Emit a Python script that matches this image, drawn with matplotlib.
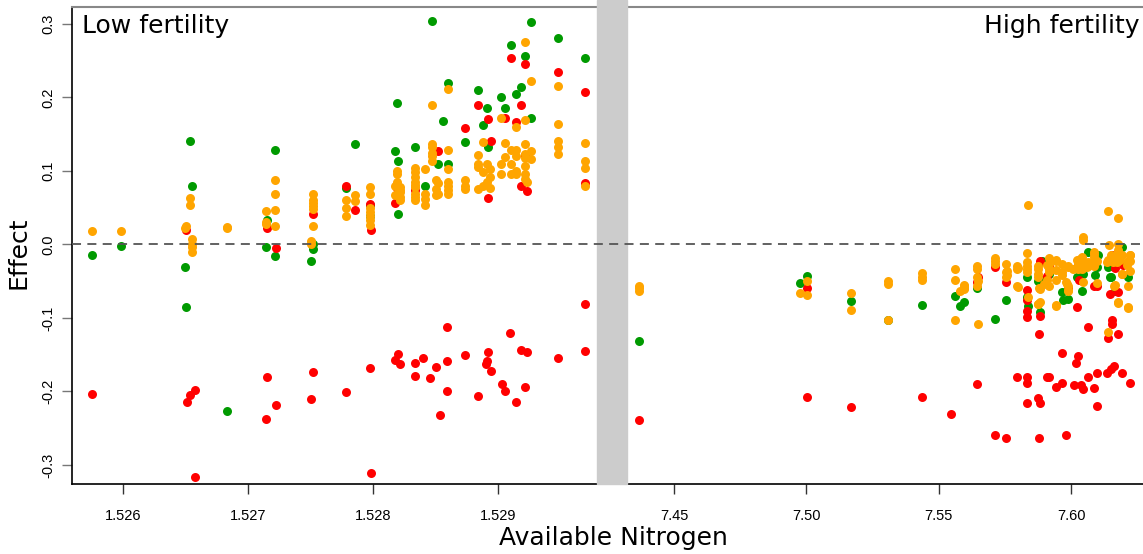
import matplotlib
matplotlib.use("Agg")
import matplotlib.pyplot as plt
import matplotlib.transforms as mtransforms
from matplotlib.patches import Rectangle

# low fertility panel (x, effect)
low_green = [
    (1.52575, -0.015), (1.52598, -0.002), (1.52653, 0.141), (1.52655, 0.079),
    (1.52649, -0.031), (1.52650, -0.085), (1.52683, -0.227), (1.52721, 0.128),
    (1.52715, 0.033), (1.52714, -0.004), (1.52721, -0.016), (1.52752, 0.0),
    (1.52752, -0.006), (1.52750, -0.023), (1.52778, 0.077), (1.52785, 0.137),
    (1.52797, 0.053), (1.52797, 0.039), (1.52817, 0.127), (1.52820, 0.114),
    (1.52819, 0.192), (1.52820, 0.041), (1.52833, 0.133), (1.52841, 0.079),
    (1.52847, 0.304), (1.52856, 0.168), (1.52852, 0.109), (1.52860, 0.220),
    (1.52860, 0.110), (1.52873, 0.139), (1.52884, 0.210), (1.52891, 0.185),
    (1.52888, 0.162), (1.52892, 0.132), (1.52902, 0.200), (1.52905, 0.185),
    (1.52910, 0.271), (1.52914, 0.205), (1.52918, 0.214), (1.52921, 0.257),
    (1.52926, 0.302), (1.52926, 0.172), (1.52948, 0.281), (1.52969, 0.253),
]
low_red = [
    (1.52575, -0.203), (1.52650, 0.019), (1.52657, -0.198), (1.52653, -0.205),
    (1.52651, -0.214), (1.52657, -0.316), (1.52715, 0.022), (1.52722, -0.005),
    (1.52715, -0.180), (1.52722, -0.218), (1.52714, -0.237), (1.52752, 0.042),
    (1.52752, -0.173), (1.52750, -0.211), (1.52778, 0.080), (1.52785, 0.047),
    (1.52778, -0.201), (1.52797, 0.055), (1.52798, 0.019), (1.52797, -0.168),
    (1.52798, -0.311), (1.52817, 0.057), (1.52819, 0.077), (1.52817, -0.157),
    (1.52820, -0.149), (1.52821, -0.163), (1.52833, 0.074), (1.52833, -0.162),
    (1.52833, -0.179), (1.52840, -0.155), (1.52845, -0.182), (1.52852, 0.127),
    (1.52850, -0.167), (1.52859, -0.113), (1.52859, -0.158), (1.52859, -0.199),
    (1.52853, -0.232), (1.52873, 0.159), (1.52873, -0.150), (1.52884, 0.189),
    (1.52884, -0.206), (1.52892, 0.171), (1.52894, 0.141), (1.52892, 0.063),
    (1.52892, -0.147), (1.52891, -0.158), (1.52890, -0.163), (1.52894, -0.172),
    (1.52905, 0.172), (1.52903, -0.190), (1.52905, -0.199), (1.52910, 0.254),
    (1.52909, -0.121), (1.52914, 0.166), (1.52914, -0.214), (1.52918, 0.189),
    (1.52921, 0.246), (1.52921, 0.122), (1.52918, 0.080), (1.52923, 0.073),
    (1.52918, -0.144), (1.52923, -0.146), (1.52921, -0.194), (1.52948, 0.234),
    (1.52948, -0.155), (1.52969, 0.208), (1.52969, 0.084), (1.52969, -0.081),
    (1.52969, -0.145),
]
low_orange = [
    (1.52575, 0.018), (1.52598, 0.018), (1.52653, 0.063), (1.52653, 0.054),
    (1.52649, 0.022), (1.52650, 0.025), (1.52655, 0.007), (1.52655, 0.001),
    (1.52655, -0.004), (1.52655, -0.010), (1.52683, 0.022), (1.52683, 0.024),
    (1.52721, 0.0875), (1.52721, 0.068), (1.52714, 0.046), (1.52721, 0.047),
    (1.52721, 0.025), (1.52714, 0.028), (1.52714, 0.031), (1.52752, 0.068),
    (1.52752, 0.061), (1.52752, 0.057), (1.52752, 0.052), (1.52752, 0.048),
    (1.52752, 0.025), (1.52750, 0.004), (1.52750, 0.001), (1.52785, 0.067),
    (1.52785, 0.059), (1.52778, 0.061), (1.52778, 0.050), (1.52778, 0.038),
    (1.52797, 0.078), (1.52797, 0.069), (1.52797, 0.049), (1.52797, 0.044),
    (1.52797, 0.039), (1.52797, 0.033), (1.52797, 0.026), (1.52819, 0.100),
    (1.52819, 0.096), (1.52819, 0.085), (1.52817, 0.079), (1.52817, 0.067),
    (1.52821, 0.078), (1.52821, 0.074), (1.52821, 0.071), (1.52821, 0.064),
    (1.52821, 0.060), (1.52833, 0.104), (1.52833, 0.098), (1.52833, 0.092),
    (1.52833, 0.085), (1.52833, 0.081), (1.52833, 0.078), (1.52833, 0.069),
    (1.52833, 0.064), (1.52833, 0.060), (1.52841, 0.102), (1.52841, 0.069),
    (1.52841, 0.062), (1.52841, 0.053), (1.52847, 0.190), (1.52847, 0.136),
    (1.52847, 0.132), (1.52847, 0.125), (1.52847, 0.120), (1.52847, 0.114),
    (1.52850, 0.087), (1.52852, 0.083), (1.52850, 0.076), (1.52852, 0.069),
    (1.52850, 0.067), (1.52860, 0.211), (1.52860, 0.129), (1.52860, 0.102),
    (1.52860, 0.085), (1.52860, 0.080), (1.52860, 0.074), (1.52860, 0.068),
    (1.52873, 0.088), (1.52873, 0.079), (1.52873, 0.076), (1.52884, 0.122),
    (1.52884, 0.110), (1.52884, 0.105), (1.52884, 0.076), (1.52888, 0.139),
    (1.52891, 0.110), (1.52888, 0.098), (1.52893, 0.103), (1.52893, 0.092),
    (1.52891, 0.085), (1.52888, 0.080), (1.52893, 0.077), (1.52902, 0.172),
    (1.52905, 0.138), (1.52910, 0.128), (1.52905, 0.119), (1.52902, 0.109),
    (1.52910, 0.109), (1.52902, 0.096), (1.52910, 0.096), (1.52914, 0.160),
    (1.52914, 0.129), (1.52914, 0.120), (1.52914, 0.100), (1.52914, 0.096),
    (1.52921, 0.275), (1.52921, 0.169), (1.52921, 0.136), (1.52921, 0.123),
    (1.52921, 0.117), (1.52921, 0.107), (1.52921, 0.096), (1.52921, 0.089),
    (1.52923, 0.085), (1.52926, 0.127), (1.52926, 0.116), (1.52926, 0.222),
    (1.52948, 0.215), (1.52948, 0.164), (1.52948, 0.141), (1.52948, 0.132),
    (1.52948, 0.123), (1.52969, 0.138), (1.52969, 0.114), (1.52969, 0.104),
    (1.52969, 0.079),
]

# high fertility panel (x, effect)
high_green = [
    (7.4367, -0.131), (7.5001, -0.043), (7.4975, -0.053), (7.5167, -0.077),
    (7.5310, -0.103), (7.5436, -0.082), (7.5562, -0.070), (7.5579, -0.084),
    (7.5597, -0.078), (7.5644, -0.060), (7.5713, -0.102), (7.5755, -0.076),
    (7.5833, -0.044), (7.5833, -0.072), (7.5839, -0.084), (7.5877, -0.050),
    (7.5883, -0.092), (7.5889, -0.022), (7.5915, -0.040), (7.5889, -0.049),
    (7.5965, -0.065), (7.5990, -0.074), (7.5968, -0.076), (7.6022, -0.044),
    (7.6040, -0.063), (7.6030, -0.044), (7.6047, -0.040), (7.6066, -0.011),
    (7.6091, -0.041), (7.6103, -0.015), (7.6097, -0.031), (7.6148, -0.044),
    (7.6154, -0.029), (7.6194, -0.004), (7.6217, -0.044), (7.6166, -0.063),
    (7.6141, -0.031), (7.6150, -0.045),
]
high_red = [
    (7.4367, -0.239), (7.5001, -0.060), (7.5001, -0.207), (7.5167, -0.221),
    (7.5436, -0.208), (7.5547, -0.231), (7.5649, -0.044), (7.5644, -0.051),
    (7.5644, -0.190), (7.5713, -0.031), (7.5713, -0.259), (7.5755, -0.051),
    (7.5755, -0.263), (7.5833, -0.062), (7.5833, -0.075), (7.5833, -0.090),
    (7.5833, -0.099), (7.5797, -0.180), (7.5833, -0.181), (7.5833, -0.188),
    (7.5833, -0.216), (7.5883, -0.022), (7.5883, -0.098), (7.5879, -0.122),
    (7.5877, -0.209), (7.5883, -0.216), (7.5879, -0.264), (7.5908, -0.043),
    (7.5915, -0.030), (7.5909, -0.180), (7.5918, -0.180), (7.5944, -0.194),
    (7.5965, -0.148), (7.5965, -0.188), (7.5982, -0.259), (7.5990, -0.059),
    (7.6022, -0.085), (7.6022, -0.031), (7.6030, -0.049), (7.6028, -0.152),
    (7.6017, -0.162), (7.6013, -0.191), (7.6038, -0.191), (7.6045, -0.197),
    (7.6065, -0.112), (7.6065, -0.180), (7.6085, -0.057), (7.6097, -0.057),
    (7.6097, -0.175), (7.6088, -0.196), (7.6100, -0.220), (7.6154, -0.015),
    (7.6166, -0.032), (7.6195, -0.028), (7.6148, -0.068), (7.6177, -0.065),
    (7.6155, -0.103), (7.6155, -0.108), (7.6177, -0.122), (7.6141, -0.127),
    (7.6135, -0.175), (7.6150, -0.169), (7.6163, -0.165), (7.6194, -0.175),
    (7.6224, -0.188),
]
high_orange = [
    (7.4367, -0.056), (7.4367, -0.059), (7.4367, -0.064), (7.5001, -0.050),
    (7.4975, -0.066), (7.5001, -0.069), (7.5167, -0.066), (7.5167, -0.089),
    (7.5310, -0.050), (7.5310, -0.054), (7.5310, -0.103), (7.5436, -0.039),
    (7.5436, -0.044), (7.5436, -0.049), (7.5562, -0.034), (7.5562, -0.049),
    (7.5579, -0.063), (7.5597, -0.056), (7.5597, -0.060), (7.5562, -0.103),
    (7.5644, -0.030), (7.5644, -0.033), (7.5649, -0.050), (7.5644, -0.056),
    (7.5649, -0.108), (7.5713, -0.018), (7.5713, -0.022), (7.5713, -0.026),
    (7.5755, -0.026), (7.5755, -0.038), (7.5755, -0.044), (7.5797, -0.030),
    (7.5797, -0.033), (7.5797, -0.057), (7.5837, 0.054), (7.5833, -0.012),
    (7.5833, -0.024), (7.5833, -0.029), (7.5833, -0.033), (7.5833, -0.038),
    (7.5837, -0.071), (7.5877, -0.029), (7.5877, -0.033), (7.5877, -0.040),
    (7.5879, -0.060), (7.5877, -0.081), (7.5915, -0.019), (7.5915, -0.026),
    (7.5915, -0.033), (7.5909, -0.049), (7.5915, -0.056), (7.5944, -0.021),
    (7.5944, -0.048), (7.5944, -0.084), (7.5965, -0.026), (7.5965, -0.038),
    (7.5982, -0.051), (7.5987, -0.056), (7.5987, -0.063), (7.5987, -0.030),
    (7.6028, -0.026), (7.6037, -0.022), (7.6043, -0.017), (7.6028, -0.033),
    (7.6043, -0.033), (7.6047, -0.051), (7.6047, 0.010), (7.6047, 0.006),
    (7.6065, -0.030), (7.6065, -0.024), (7.6088, -0.010), (7.6088, -0.017),
    (7.6097, -0.022), (7.6088, -0.029), (7.6097, -0.053), (7.6141, 0.046),
    (7.6177, 0.036), (7.6145, -0.001), (7.6177, 0.001), (7.6177, -0.008),
    (7.6150, -0.015), (7.6170, -0.015), (7.6141, -0.021), (7.6160, -0.024),
    (7.6194, -0.014), (7.6224, -0.015), (7.6215, -0.022), (7.6163, -0.056),
    (7.6177, -0.078), (7.6215, -0.056), (7.6224, -0.036), (7.6215, -0.086),
    (7.6194, -0.040), (7.6224, -0.022), (7.6141, -0.119), (7.5943, -0.022),
    (7.5908, -0.0285), (7.5915, -0.0376), (7.5943, -0.0353), (7.5965, -0.0422),
    (7.5990, -0.0308), (7.6009, -0.0331), (7.6022, -0.0217), (7.6034, -0.0195),
    (7.6040, -0.0308), (7.6059, -0.0308), (7.6085, -0.0127), (7.6091, -0.0217),
    (7.6135, -0.0240), (7.6154, -0.0172), (7.6173, -0.0240), (7.6185, -0.0217),
    (7.6223, -0.0149), (7.6211, -0.0285), (7.5883, -0.0784), (7.5943, -0.0830),
    (7.6177, -0.0793), (7.6217, -0.0857), (7.6192, -0.0399), (7.6166, -0.0558),
    (7.5984, -0.0535), (7.5990, -0.0626), (7.5896, -0.0535), (7.5594, -0.0558),
    (7.5594, -0.0603), (7.5644, -0.0444), (7.5757, -0.0367), (7.5757, -0.0422),
    (7.5798, -0.0322), (7.5798, -0.0581), (7.5877, -0.0444), (7.5883, -0.0603),
    (7.5877, -0.0807),
]

low_ticks = [1.526, 1.527, 1.528, 1.529]
low_ticklabels = ["1.526", "1.527", "1.528", "1.529"]
high_ticks = [7.45, 7.50, 7.55, 7.60]
high_ticklabels = ["7.45", "7.50", "7.55", "7.60"]
y_ticks = [-0.3, -0.2, -0.1, 0.0, 0.1, 0.2, 0.3]
y_ticklabels = ["-0.3", "-0.2", "-0.1", "0.0", "0.1", "0.2", "0.3"]

GREEN = "#009a00"
RED = "#ff0000"
ORANGE = "#ffa500"
TICKFONT = ["Liberation Sans", "DejaVu Sans"]

fig = plt.figure(figsize=(11.43, 5.54), dpi=100)
ax1 = fig.add_axes([72 / 1143, 1 - 484 / 554, 525 / 1143, 477 / 554])
ax2 = fig.add_axes([627 / 1143, 1 - 484 / 554, 516 / 1143, 477 / 554])

# gray gap between the panels
fig.patches.append(Rectangle((597 / 1143, 1 - 484 / 554), 30 / 1143, 484 / 554,
                             transform=fig.transFigure, color="#cccccc",
                             zorder=0))

for ax, data in [(ax1, (low_green, low_red, low_orange)),
                 (ax2, (high_green, high_red, high_orange))]:
    for pts, col in zip(data, [GREEN, RED, ORANGE]):
        xs = [p[0] for p in pts]
        ys = [p[1] for p in pts]
        ax.scatter(xs, ys, s=42, color=col, linewidths=0, zorder=3)
    ax.set_ylim(-0.326, 0.323)
    ax.spines["right"].set_visible(False)
    ax.spines["top"].set_color("#888888")
    ax.spines["top"].set_linewidth(1.5)
    ax.spines["bottom"].set_linewidth(1.2)
    ax.spines["left"].set_linewidth(1.2)
    ax.tick_params(axis="x", direction="out", length=7, width=1,
                   color="#333333", pad=11, labelsize=10.5)
    ax.patch.set_alpha(0)

ax1.set_xlim(1.52559, 1.52979)
ax2.set_xlim(7.4322, 7.6272)
ax2.spines["left"].set_visible(False)
ax2.set_yticks([])

ax1.set_xticks(low_ticks)
ax1.set_xticklabels(low_ticklabels, family=TICKFONT)
ax2.set_xticks(high_ticks)
ax2.set_xticklabels(high_ticklabels, family=TICKFONT)

ax1.set_yticks(y_ticks)
ax1.set_yticklabels(y_ticklabels, family=TICKFONT, rotation=90, va="center")
ax1.tick_params(axis="y", direction="out", length=7, width=1,
                color="#777777", pad=5, labelsize=10.5)

# dashed zero line across both panels and the gap
trans = mtransforms.blended_transform_factory(fig.transFigure, ax1.transData)
fig.add_artist(plt.Line2D([72 / 1143, 1.0], [0, 0], transform=trans,
                          color="#555555", lw=1.3, ls=(0, (5, 3.5)),
                          zorder=5))

ax1.text(0.019, 0.985, "Low fertility", transform=ax1.transAxes,
         ha="left", va="top", fontsize=18)
ax2.text(0.994, 0.985, "High fertility", transform=ax2.transAxes,
         ha="right", va="top", fontsize=18)

fig.text(0.537, 0.029, "Available Nitrogen", ha="center", va="center",
         fontsize=18)
fig.text(0.0166, 0.543, "Effect", ha="center", va="center", rotation=90,
         fontsize=18)

fig.savefig("out.png", dpi=100)
